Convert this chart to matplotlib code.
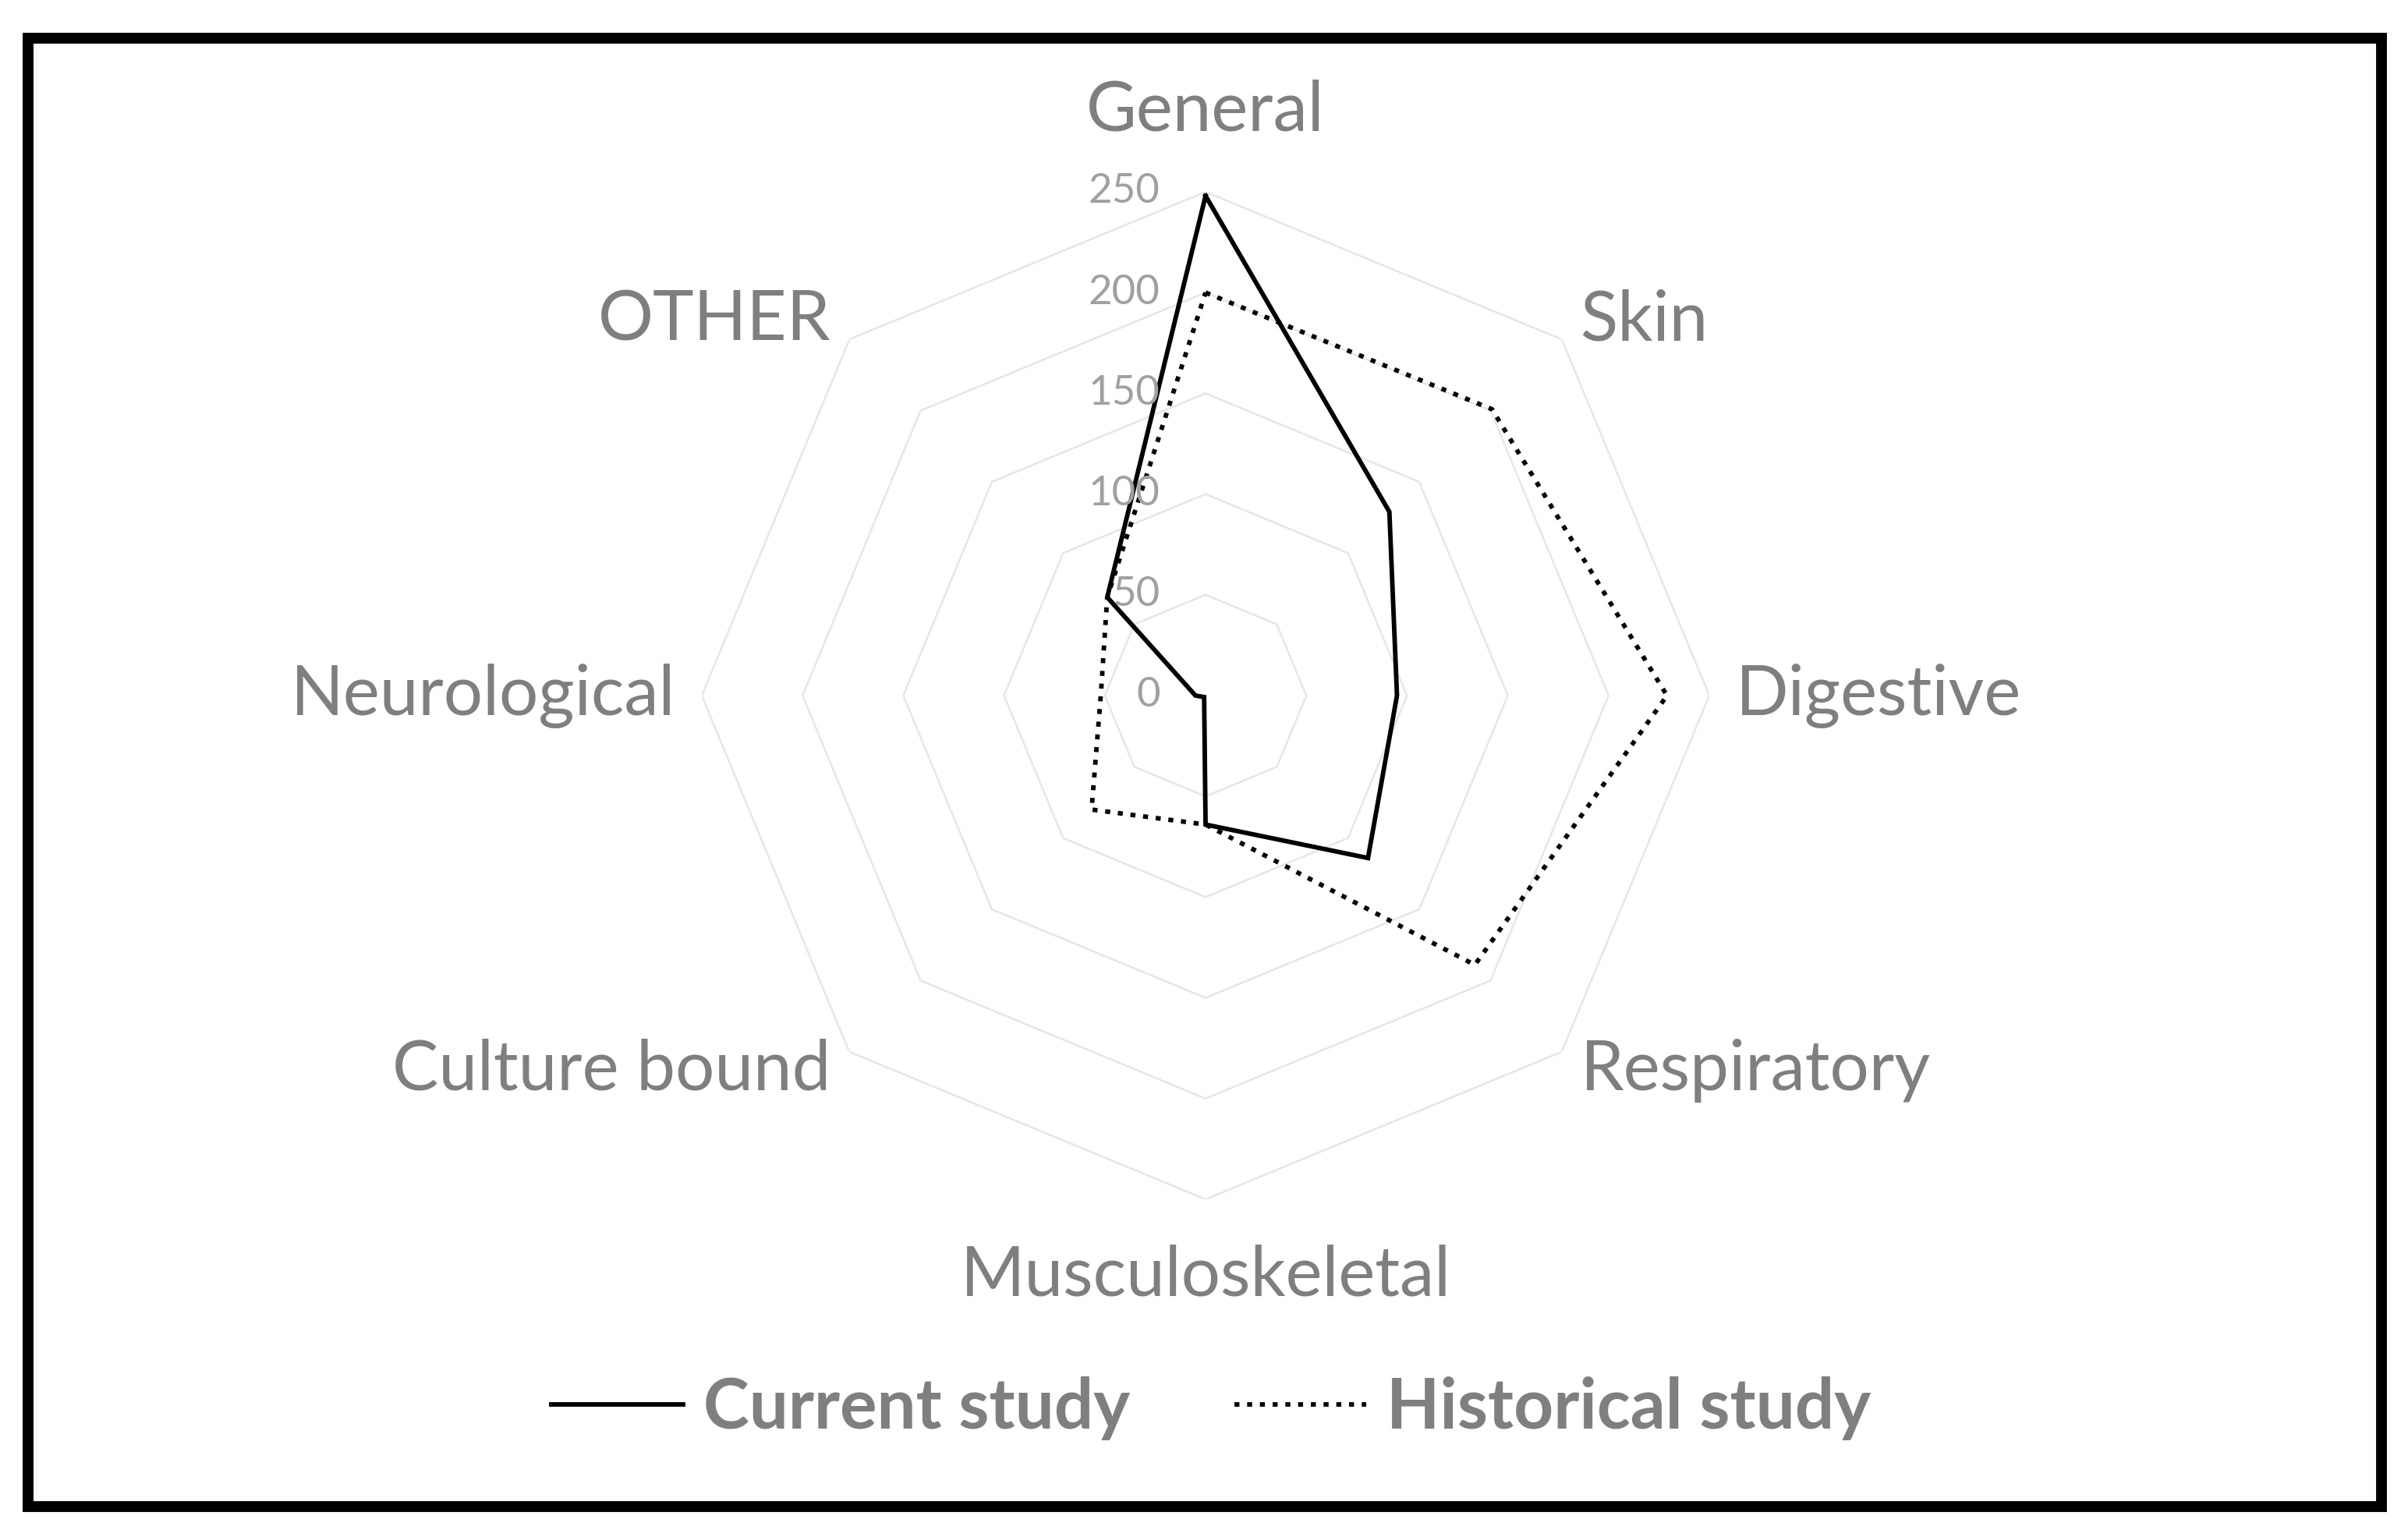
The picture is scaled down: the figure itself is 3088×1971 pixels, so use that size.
import numpy as np
import matplotlib
matplotlib.use("Agg")
import matplotlib.pyplot as plt
from matplotlib.patches import Rectangle
from matplotlib.lines import Line2D

categories = ["General", "Skin", "Digestive", "Respiratory",
              "Musculoskeletal", "Culture bound", "Neurological", "OTHER"]
current = [248, 129, 95, 114, 64, 1, 5, 69]
historical = [200, 201, 229, 189, 64, 80, 52, 69]
levels = [0, 50, 100, 150, 200, 250]

plt.rcParams["font.family"] = ["Lato", "DejaVu Sans"]

W, H = 3088, 1971
fig = plt.figure(figsize=(W / 100, H / 100), dpi=100)

# polar axes placed so that the 250 ring has radius R px around (cx, cy)
cx, cy, R = 1546, 892, 646
ax = fig.add_axes([(cx - R) / W, 1 - (cy + R) / H, 2 * R / W, 2 * R / H],
                  projection="polar")
ax.set_theta_offset(np.pi / 2)
ax.set_theta_direction(-1)
ax.set_ylim(0, 250)
ax.set_xticks([])
ax.set_yticks([])
ax.grid(False)
ax.spines["polar"].set_visible(False)
ax.patch.set_visible(False)

n = len(categories)
ang = np.arange(n) * 2 * np.pi / n
ang_c = np.append(ang, ang[0])

for v in levels[1:]:
    ax.plot(ang_c, [v] * (n + 1), color="#e6e6e6", lw=1.8, zorder=1)

lw = 4.2
dots = (0, (1.1, 1.7))
ax.plot(ang_c, current + current[:1], color="black", lw=lw, zorder=3,
        solid_joinstyle="miter")
ax.plot(ang_c, historical + historical[:1], color="black", lw=lw,
        linestyle=dots, zorder=3)

# value labels along the top axis
for v in levels:
    ax.annotate(str(v), xy=(0, v), xytext=(-42, 0), textcoords="offset points",
                ha="right", va="center", fontsize=38, color="#a0a0a0")

# category labels
lab_color = "#7f7f7f"
fs = 64
for a, name in zip(ang, categories):
    deg = np.degrees(a) % 360
    if deg == 0:
        ax.text(a, 290, name, ha="center", va="center", fontsize=fs, color=lab_color)
    elif deg == 180:
        ax.text(a, 288, name, ha="center", va="center", fontsize=fs, color=lab_color)
    elif deg < 180:
        ax.text(a, 263, name, ha="left", va="center", fontsize=fs, color=lab_color)
    else:
        ax.text(a, 263, name, ha="right", va="center", fontsize=fs, color=lab_color)

handles = [Line2D([], [], color="black", lw=lw),
           Line2D([], [], color="black", lw=lw, linestyle=dots)]
leg = fig.legend(handles, ["Current study", "Historical study"], loc="center",
                 bbox_to_anchor=(0.503, 1 - 1806 / H), ncol=2, frameon=False,
                 prop={"size": 64, "weight": "bold"}, handlelength=1.9,
                 handletextpad=0.3, columnspacing=1.5)
for t in leg.get_texts():
    t.set_color(lab_color)

# black frame around the figure
x0, x1, y0, y1 = 36, 3054, 49, 1932
fig.patches.append(Rectangle((x0 / W, 1 - y1 / H), (x1 - x0) / W, (y1 - y0) / H,
                             transform=fig.transFigure, fill=False,
                             edgecolor="black", lw=10))

fig.savefig("out.png", dpi=100)
